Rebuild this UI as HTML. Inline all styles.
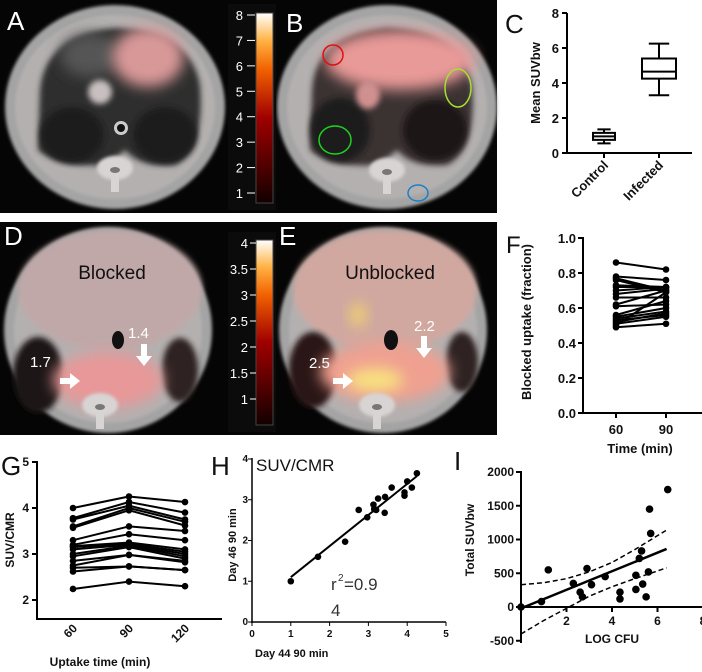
<!DOCTYPE html>
<html><head><meta charset="utf-8">
<style>
html,body{margin:0;padding:0;background:#fff;width:702px;height:672px;overflow:hidden}
svg{display:block}
text{font-family:"Liberation Sans",sans-serif}
.b{font-weight:bold;fill:#111}
</style></head>
<body>
<svg id="fig" width="702" height="672" viewBox="0 0 702 672" xmlns="http://www.w3.org/2000/svg">
<defs>
<filter id="blur1" x="-50%" y="-50%" width="200%" height="200%"><feGaussianBlur stdDeviation="1.5"/></filter>
<filter id="blur3" x="-50%" y="-50%" width="200%" height="200%"><feGaussianBlur stdDeviation="3"/></filter>
<filter id="blur6" x="-50%" y="-50%" width="200%" height="200%"><feGaussianBlur stdDeviation="7"/></filter>
<linearGradient id="hot" x1="0" y1="1" x2="0" y2="0">
<stop offset="0" stop-color="#120000"/><stop offset="0.45" stop-color="#a00000"/>
<stop offset="0.7" stop-color="#f06000"/><stop offset="0.85" stop-color="#ffb040"/><stop offset="1" stop-color="#ffffff"/>
</linearGradient>
</defs>
<rect x="0" y="0" width="497" height="213" fill="#050505"/>
<rect x="0" y="222" width="497" height="213" fill="#050505"/>
<g id="scans"></g>
<g id="charts"></g>
</svg>
<script>
// ===== DATA =====
const cCategories = ["Control","Infected"];
const cWhiskerLow = [0.55, 3.3];
const cQ1 = [0.75, 4.25];
const cMedian = [0.95, 4.65];
const cQ3 = [1.15, 5.4];
const cWhiskerHigh = [1.35, 6.25];
const cYTicks = [0,2,4,6,8];

const fTimes = [60, 90];
const f60 = [0.86,0.78,0.77,0.76,0.73,0.72,0.70,0.68,0.66,0.62,0.61,0.56,0.55,0.54,0.53,0.52,0.51,0.50,0.49];
const f90 = [0.82,0.76,0.70,0.69,0.72,0.72,0.72,0.71,0.66,0.70,0.62,0.64,0.60,0.58,0.56,0.57,0.55,0.69,0.51];
const fYTicks = ["0.0","0.2","0.4","0.6","0.8","1.0"];

const gTimes = ["60","90","120"];
const g60 = [4.0,3.78,3.75,3.6,3.57,3.3,3.2,3.17,3.15,3.1,3.0,2.95,2.85,2.75,2.7,2.62,2.24];
const g90 = [4.25,4.13,4.05,4.0,3.95,3.6,3.43,3.25,3.22,3.2,3.18,3.15,2.98,2.98,2.73,2.73,2.4];
const g120 = [4.13,3.9,3.75,3.7,3.62,3.5,3.3,3.1,3.05,3.0,2.95,2.9,2.85,2.82,2.65,2.65,2.3];
const gYTicks = [2,3,4,5];

const hX = [1,1.7,2.4,2.75,2.97,3.13,3.15,3.2,3.25,3.42,3.43,3.6,3.93,3.93,4.0,4.12,4.25];
const hY = [1,1.6,1.97,2.75,2.57,2.88,2.77,2.75,3.03,2.68,3.07,3.3,3.1,3.18,3.45,3.3,3.65];
const hFitX = [1, 4.25];
const hFitY = [1.1, 3.58];
const hXTicks = [0,1,2,3,4,5];
const hYTicks = [0,1,2,3,4];

const iX = [0,0.9,1.2,2.3,2.6,2.7,2.9,3.1,3.7,4.35,4.35,5.05,5.05,5.2,5.3,5.35,5.5,5.6,5.65,5.7,6.45];
const iY = [0,80,550,350,220,150,570,330,450,220,120,260,470,720,830,340,150,520,1450,1090,1740];
const iFitX = [0, 6.4];
const iFitY = [-20, 860];
const iUpperX = [0,1,2,3,4,5,6.4];
const iUpperY = [330,360,420,520,660,850,1140];
const iLowerX = [0,1,2,3,4,5,6.4];
const iLowerY = [-400,-200,-20,160,300,420,580];
const iXTicks = [2,4,6,8];
const iYTicks = [-500,0,500,1000,1500,2000];

const cbTopTicks = [1,2,3,4,5,6,7,8];
const cbBotTicks = ["1","1.5","2","2.5","3","3.5","4"];

// ===== helpers =====
const NS="http://www.w3.org/2000/svg";
const charts=document.getElementById('charts');
const scans=document.getElementById('scans');
function mk(tag,attrs,parent){const e=document.createElementNS(NS,tag);for(const k in attrs)e.setAttribute(k,attrs[k]);(parent||charts).appendChild(e);return e;}
function txt(s,x,y,attrs,parent){const e=mk('text',Object.assign({x:x,y:y},attrs||{}),parent);e.textContent=s;return e;}
function lin(d0,d1,r0,r1){return v=>r0+(v-d0)/(d1-d0)*(r1-r0);}

// ===== scans =====
function body(cx,cy,rx,ry,name){
  const g=mk('g',{},scans);
  
  
  mk('ellipse',{cx:cx,cy:cy,rx:rx,ry:ry,fill:'#a4a4a4',filter:'url(#blur1)'},g);
  mk('ellipse',{cx:cx,cy:cy,rx:rx-10,ry:ry-10,fill:'#b4b0b0',filter:'url(#blur1)'},g);
  return g;
}
function spine(cx,cy,g){
  mk('ellipse',{cx:cx,cy:cy,rx:18,ry:12,fill:'#d8d4d4',filter:'url(#blur1)'},g);
  mk('rect',{x:cx-4,y:cy,width:8,height:24,fill:'#d8d4d4'},g);
  mk('ellipse',{cx:cx,cy:cy+2,rx:5,ry:3,fill:'#777'},g);
}
// A
let g=body(115,107,110,102,'scan-a');
mk('path',{d:'M40,90 Q45,35 115,28 Q190,30 200,85 Q205,150 175,165 Q140,168 125,150 Q115,160 100,165 Q60,168 38,150 Z',fill:'#2e2e2e',filter:'url(#blur3)'},g);
mk('ellipse',{cx:72,cy:135,rx:32,ry:28,fill:'#1c1c1c',filter:'url(#blur3)'},g);
mk('ellipse',{cx:165,cy:135,rx:32,ry:28,fill:'#1a1a1a',filter:'url(#blur3)'},g);
mk('ellipse',{cx:90,cy:55,rx:30,ry:22,fill:'#555',filter:'url(#blur6)'},g);
mk('ellipse',{cx:148,cy:57,rx:36,ry:30,fill:'#d89898',filter:'url(#blur6)'},g);
mk('ellipse',{cx:100,cy:92,rx:12,ry:12,fill:'#c8c0c0',filter:'url(#blur3)'},g);
mk('circle',{cx:121,cy:128,r:7,fill:'#ccc'},g);
mk('circle',{cx:121,cy:128,r:4,fill:'#111'},g);
spine(115,168,g);
txt('A',7,30,{fill:'#fff','font-size':'26'},g);
// B
g=body(387,107,110,102,'scan-b');
mk('path',{d:'M312,90 Q315,35 387,28 Q460,30 472,85 Q477,150 447,165 Q412,168 397,150 Q387,160 372,165 Q332,168 310,150 Z',fill:'#3a3030',filter:'url(#blur3)'},g);
mk('ellipse',{cx:340,cy:130,rx:30,ry:32,fill:'#1e1a1a',filter:'url(#blur3)'},g);
mk('ellipse',{cx:435,cy:130,rx:32,ry:30,fill:'#1c1818',filter:'url(#blur3)'},g);
mk('ellipse',{cx:400,cy:60,rx:75,ry:30,fill:'#e89a98',filter:'url(#blur6)'},g);
mk('ellipse',{cx:368,cy:95,rx:12,ry:14,fill:'#d09090',filter:'url(#blur3)'},g);
spine(387,170,g);
mk('ellipse',{cx:333,cy:55,rx:10,ry:10,fill:'none',stroke:'#e01010','stroke-width':1.5},g);
mk('ellipse',{cx:458,cy:88,rx:13,ry:19,fill:'none',stroke:'#a8e030','stroke-width':1.5},g);
mk('ellipse',{cx:335,cy:140,rx:16,ry:14,fill:'none',stroke:'#20d020','stroke-width':1.5},g);
mk('ellipse',{cx:418,cy:193,rx:10,ry:8,fill:'none',stroke:'#1a80c8','stroke-width':1.5},g);
txt('B',286,32,{fill:'#fff','font-size':'26'},g);
// D
g=body(108,330,104,103,'scan-d');
mk('ellipse',{cx:110,cy:290,rx:92,ry:60,fill:'#c0a8a8',filter:'url(#blur3)'},g);
mk('ellipse',{cx:38,cy:375,rx:25,ry:38,fill:'#1e1616',filter:'url(#blur3)'},g);
mk('ellipse',{cx:180,cy:370,rx:18,ry:32,fill:'#2e2020',filter:'url(#blur3)'},g);
mk('ellipse',{cx:108,cy:380,rx:55,ry:28,fill:'#e89898',filter:'url(#blur6)'},g);
mk('ellipse',{cx:118,cy:340,rx:6,ry:9,fill:'#111'},g);
spine(100,405,g);
txt('D',4,245,{fill:'#fff','font-size':'26'},g);
txt('Blocked',112,279,{fill:'#111','font-size':'19','text-anchor':'middle'},g);
txt('1.7',30,367,{fill:'#fff','font-size':'15'},g);
txt('1.4',128,338,{fill:'#fff','font-size':'15'},g);
mk('path',{d:'M60,378 h10 v-5 l10,8 l-10,8 v-5 h-10 z',fill:'#fff'},g);
mk('path',{d:'M141,344 v12 h-5 l8,10 l8,-10 h-5 v-12 z',fill:'#fff'},g);
// E
g=body(383,330,104,103,'scan-e');
mk('ellipse',{cx:385,cy:290,rx:92,ry:60,fill:'#d0a8a0',filter:'url(#blur3)'},g);
mk('ellipse',{cx:313,cy:370,rx:24,ry:38,fill:'#2a1818',filter:'url(#blur3)'},g);
mk('ellipse',{cx:462,cy:362,rx:16,ry:30,fill:'#2e2020',filter:'url(#blur3)'},g);
mk('ellipse',{cx:385,cy:372,rx:65,ry:30,fill:'#f0a090',filter:'url(#blur6)'},g);
mk('ellipse',{cx:375,cy:380,rx:28,ry:12,fill:'#f8e080',filter:'url(#blur6)'},g);
mk('ellipse',{cx:358,cy:315,rx:8,ry:12,fill:'#f0d070',filter:'url(#blur6)'},g);
mk('ellipse',{cx:391,cy:340,rx:7,ry:10,fill:'#111'},g);
spine(377,405,g);
txt('E',279,245,{fill:'#fff','font-size':'26'},g);
txt('Unblocked',390,279,{fill:'#111','font-size':'19','text-anchor':'middle'},g);
txt('2.5',309,368,{fill:'#fff','font-size':'15'},g);
txt('2.2',414,331,{fill:'#fff','font-size':'15'},g);
mk('path',{d:'M333,378 h10 v-5 l10,8 l-10,8 v-5 h-10 z',fill:'#fff'},g);
mk('path',{d:'M421,336 v12 h-5 l8,10 l8,-10 h-5 v-12 z',fill:'#fff'},g);
// colorbars
mk('rect',{x:228,y:4,width:48,height:206,fill:'#0b0b0b'},scans);
let cb=mk('rect',{x:256,y:13,width:17,height:190,fill:'url(#hot)',stroke:'#444'},scans);


const yTopCb=lin(1,8,193,15);
cbTopTicks.forEach(v=>{
  mk('line',{x1:247,x2:255,y1:yTopCb(v),y2:yTopCb(v),stroke:'#fff'},scans);
  const t=txt(String(v),243,yTopCb(v)+5,{fill:'#fff','font-size':'13','text-anchor':'end'},scans);
  
});
mk('rect',{x:228,y:232,width:48,height:200,fill:'#0b0b0b'},scans);
cb=mk('rect',{x:256,y:240,width:17,height:185,fill:'url(#hot)',stroke:'#444'},scans);


const yBotCb=lin(1,4,399,243);
cbBotTicks.forEach(s=>{
  const v=parseFloat(s);
  mk('line',{x1:250,x2:256,y1:yBotCb(v),y2:yBotCb(v),stroke:'#fff'},scans);
  const t=txt(s,248,yBotCb(v)+5,{fill:'#fff','font-size':'13','text-anchor':'end'},scans);
  
});

// ===== Panel C =====
(function(){
  const ax=567, y=lin(0,8,153,13);
  const xs=[604,659], bw=[11,17];
  txt('C',505,33,{'font-size':'26',fill:'#111'});
  mk('line',{x1:ax,y1:13,x2:ax,y2:154,stroke:'#000','stroke-width':2});
  mk('line',{x1:ax-1,y1:153,x2:692,y2:153,stroke:'#000','stroke-width':2});
  cYTicks.forEach(v=>{
    mk('line',{x1:ax-5,x2:ax,y1:y(v),y2:y(v),stroke:'#000','stroke-width':2});
    const t=txt(String(v),ax-8,y(v)+5,{'class':'b','font-size':'13','text-anchor':'end'});
    
  });
  const yl=txt('Mean SUVbw',0,0,{'class':'b','font-size':'13','text-anchor':'middle',transform:'translate(540,83) rotate(-90)'});
  
  cCategories.forEach((c,i)=>{
    const x=xs[i];
    const bx=mk('g',{});
    
    
    mk('line',{x1:x,x2:x,y1:y(cWhiskerLow[i]),y2:y(cWhiskerHigh[i]),stroke:'#000','stroke-width':2},bx);
    mk('line',{x1:x-bw[i]*0.6,x2:x+bw[i]*0.6,y1:y(cWhiskerLow[i]),y2:y(cWhiskerLow[i]),stroke:'#000','stroke-width':2},bx);
    mk('line',{x1:x-bw[i]*0.6,x2:x+bw[i]*0.6,y1:y(cWhiskerHigh[i]),y2:y(cWhiskerHigh[i]),stroke:'#000','stroke-width':2},bx);
    mk('rect',{x:x-bw[i],y:y(cQ3[i]),width:2*bw[i],height:y(cQ1[i])-y(cQ3[i]),fill:'#fff',stroke:'#000','stroke-width':2},bx);
    mk('line',{x1:x-bw[i],x2:x+bw[i],y1:y(cMedian[i]),y2:y(cMedian[i]),stroke:'#000','stroke-width':2},bx);
    mk('line',{x1:x,x2:x,y1:153,y2:158,stroke:'#000','stroke-width':2});
    const t=txt(c,0,0,{'class':'b','font-size':'13','text-anchor':'end',transform:'translate('+(x+5)+',166) rotate(-45)'});
    
  });
})();

// ===== Panel F =====
(function(){
  const ax=583, y=lin(0,1,413,238), x=lin(60,90,616,666);
  txt('F',506,253,{'font-size':'24',fill:'#111'});
  mk('line',{x1:ax,y1:237,x2:ax,y2:414,stroke:'#000','stroke-width':2});
  mk('line',{x1:ax-1,y1:413,x2:702,y2:413,stroke:'#000','stroke-width':2});
  fYTicks.forEach(s=>{
    const v=parseFloat(s);
    mk('line',{x1:ax-5,x2:ax,y1:y(v),y2:y(v),stroke:'#000','stroke-width':2});
    const t=txt(s,ax-7,y(v)+5,{'class':'b','font-size':'13','text-anchor':'end'});
    
  });
  fTimes.forEach(tm=>{
    mk('line',{x1:x(tm),x2:x(tm),y1:413,y2:418,stroke:'#000','stroke-width':2});
    const t=txt(String(tm),x(tm),434,{'class':'b','font-size':'13','text-anchor':'middle'});
    
  });
  txt('Time (min)',640,453,{'class':'b','font-size':'13','text-anchor':'middle'});
  txt('Blocked uptake (fraction)',0,0,{'class':'b','font-size':'13','text-anchor':'middle',transform:'translate(531,322) rotate(-90)'});
  f60.forEach((v,i)=>{
    const l=mk('line',{x1:x(60),y1:y(v),x2:x(90),y2:y(f90[i]),stroke:'#000','stroke-width':2});
    
    mk('circle',{cx:x(60),cy:y(v),r:3.3,fill:'#000'});
    mk('circle',{cx:x(90),cy:y(f90[i]),r:3.3,fill:'#000'});
  });
})();

// ===== Panel G =====
(function(){
  const ax=37, y=lin(2,5,600,462);
  const xs=[73,129,185];
  txt('G',1,475,{'font-size':'26',fill:'#111'});
  mk('line',{x1:ax,y1:461,x2:ax,y2:620,stroke:'#000','stroke-width':2});
  mk('line',{x1:ax-1,y1:619,x2:222,y2:619,stroke:'#000','stroke-width':2});
  gYTicks.forEach(v=>{
    mk('line',{x1:ax-5,x2:ax,y1:y(v),y2:y(v),stroke:'#000','stroke-width':2});
    const t=txt(String(v),ax-8,y(v)+4,{'class':'b','font-size':'12','text-anchor':'end'});
    
  });
  gTimes.forEach((s,i)=>{
    const t=txt(s,0,0,{'class':'b','font-size':'12','text-anchor':'end',transform:'translate('+(xs[i]+5)+',629) rotate(-45)'});
    
  });
  txt('Uptake time (min)',100,666,{'class':'b','font-size':'12','text-anchor':'middle'});
  txt('SUV/CMR',0,0,{'class':'b','font-size':'12','text-anchor':'middle',transform:'translate(14,540) rotate(-90)'});
  g60.forEach((v,i)=>{
    const vals=[v,g90[i],g120[i]];
    const p=mk('polyline',{points:vals.map((d,j)=>xs[j]+','+y(d)).join(' '),fill:'none',stroke:'#000','stroke-width':2});
    
    vals.forEach((d,j)=>mk('circle',{cx:xs[j],cy:y(d),r:3.3,fill:'#000'}));
  });
})();

// ===== Panel H =====
(function(){
  const x=lin(0,5,252,446), y=lin(0,4,622,459);
  txt('H',211,475,{'font-size':'26',fill:'#111'});
  mk('line',{x1:252,y1:458,x2:252,y2:623,stroke:'#000','stroke-width':1.5});
  mk('line',{x1:251,y1:622,x2:446,y2:622,stroke:'#000','stroke-width':1.5});
  hYTicks.forEach(v=>{
    mk('line',{x1:248,x2:252,y1:y(v),y2:y(v),stroke:'#000'});
    const t=txt(String(v),248,y(v)+3,{'class':'b','font-size':'10','text-anchor':'end'});
    
  });
  hXTicks.forEach(v=>{
    mk('line',{x1:x(v),x2:x(v),y1:622,y2:626,stroke:'#000'});
    const t=txt(String(v),x(v),637,{'class':'b','font-size':'10','text-anchor':'middle'});
    
  });
  txt('Day 44 90 min',255,657,{'class':'b','font-size':'11'});
  txt('Day 46 90 min',0,0,{'class':'b','font-size':'11','text-anchor':'middle',transform:'translate(236,545) rotate(-90)'});
  txt('SUV/CMR',256,471,{'font-size':'17',fill:'#111'});
  txt('r',331,590,{'font-size':'17',fill:'#333'});
  txt('2',338,581,{'font-size':'10',fill:'#333'});
  txt('=0.9',344,590,{'font-size':'17',fill:'#333'});
  txt('4',331,616,{'font-size':'17',fill:'#333'});
  const fl=mk('line',{x1:x(hFitX[0]),y1:y(hFitY[0]),x2:x(hFitX[1]),y2:y(hFitY[1]),stroke:'#000','stroke-width':2});
  
  hX.forEach((v,i)=>{
    const c=mk('circle',{cx:x(v),cy:y(hY[i]),r:3.3,fill:'#000'});
    
  });
})();

// ===== Panel I =====
(function(){
  const x=lin(0,8,521,703), y=lin(0,2000,607,472);
  txt('I',454,470,{'font-size':'26',fill:'#111'});
  mk('line',{x1:521,y1:471,x2:521,y2:643,stroke:'#000','stroke-width':2});
  mk('line',{x1:520,y1:607,x2:702,y2:607,stroke:'#000','stroke-width':2});
  iYTicks.forEach(v=>{
    mk('line',{x1:516,x2:521,y1:y(v),y2:y(v),stroke:'#000','stroke-width':2});
    const t=txt(String(v),514,y(v)+4,{'class':'b','font-size':'12','text-anchor':'end'});
    
  });
  iXTicks.forEach(v=>{
    mk('line',{x1:x(v),x2:x(v),y1:607,y2:612,stroke:'#000','stroke-width':2});
    const t=txt(String(v),x(v),625,{'class':'b','font-size':'12','text-anchor':'middle'});
    
  });
  txt('LOG CFU',612,643,{'class':'b','font-size':'12','text-anchor':'middle'});
  txt('Total SUVbw',0,0,{'class':'b','font-size':'12','text-anchor':'middle',transform:'translate(474,540) rotate(-90)'});
  const up=mk('polyline',{points:iUpperX.map((v,i)=>x(v)+','+y(iUpperY[i])).join(' '),fill:'none',stroke:'#000','stroke-width':1.5,'stroke-dasharray':'5,3'});
  
  const lo=mk('polyline',{points:iLowerX.map((v,i)=>x(v)+','+y(iLowerY[i])).join(' '),fill:'none',stroke:'#000','stroke-width':1.5,'stroke-dasharray':'5,3'});
  
  const fl=mk('line',{x1:x(iFitX[0]),y1:y(iFitY[0]),x2:x(iFitX[1]),y2:y(iFitY[1]),stroke:'#000','stroke-width':2.5});
  
  iX.forEach((v,i)=>{
    const c=mk('circle',{cx:x(v),cy:y(iY[i]),r:3.8,fill:'#000'});
    
  });
})();
</script>
</body></html>
